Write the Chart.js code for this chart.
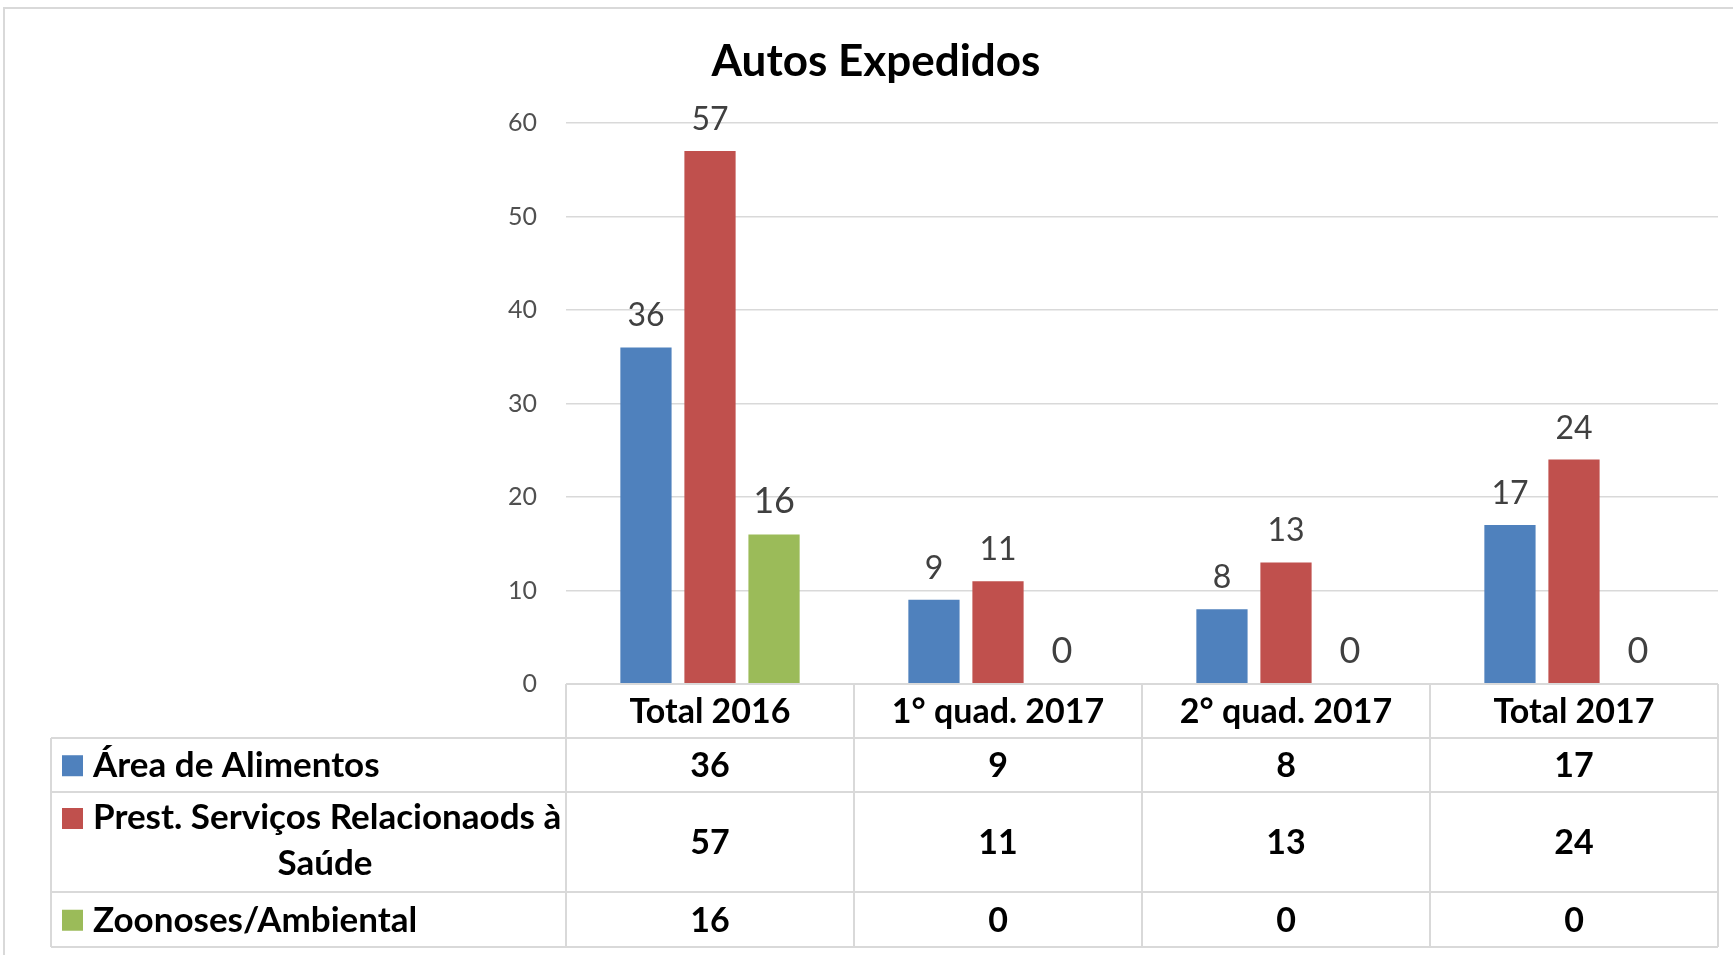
<!DOCTYPE html>
<html>
<head>
<meta charset="utf-8">
<script src="https://cdn.jsdelivr.net/npm/chart.js@4/dist/chart.umd.min.js"></script>
<style>
  html, body { margin: 0; padding: 0; background: #fff; }
  canvas { display: block; }
</style>
</head>
<body>
<canvas id="autosChart" width="1733" height="955"></canvas>
<script>
// dados do gráfico
const categories = ['Total 2016', '1° quad. 2017', '2° quad. 2017', 'Total 2017'];
const seriesNames = ['Área de Alimentos', 'Prest. Serviços Relacionaods à Saúde', 'Zoonoses/Ambiental'];
const alimentos = [36, 9, 8, 17];
const prestServicos = [57, 11, 13, 24];
const zoonoses = [16, 0, 0, 0];
const yTicks = [0, 10, 20, 30, 40, 50, 60];

const colors = ['#4F81BD', '#C0504D', '#9BBB59'];
const gridColor = '#d9d9d9';
const fontFamily = 'Lato, "Open Sans", sans-serif';

Chart.defaults.font.family = fontFamily;

// rótulos acima das barras
const barLabels = {
    id: 'barLabels',
    afterDatasetsDraw(chart) {
        const ctx = chart.ctx;
        ctx.save();
        ctx.fillStyle = '#404040';
        ctx.textAlign = 'center';
        ctx.textBaseline = 'alphabetic';
        chart.data.datasets.forEach((ds, di) => {
            const meta = chart.getDatasetMeta(di);
            ctx.font = (di === 2 ? 36 : 32) + 'px ' + fontFamily;
            meta.data.forEach((bar, i) => {
                ctx.fillText(String(ds.data[i]), bar.x, bar.y - 21);
            });
        });
        ctx.restore();
    }
};

// título e tabela de dados
const dataTable = {
    id: 'dataTable',
    afterDraw(chart) {
        const ctx = chart.ctx;
        const x = chart.scales.x;
        const n = categories.length;
        const colW = x.width / n;
        const left = 51;
        const edges = [];
        for (let i = 0; i <= n; i++) edges.push(x.left + colW * i);
        const rows = [684, 738, 792, 892, 947];

        ctx.save();
        // moldura externa
        ctx.strokeStyle = gridColor;
        ctx.lineWidth = 2;
        ctx.strokeRect(4, 8, 1760, 1000);

        // título
        ctx.fillStyle = '#000';
        ctx.textAlign = 'center';
        ctx.font = 'bold 44px ' + fontFamily;
        ctx.fillText('Autos Expedidos', 876, 76);

        // linhas da tabela
        ctx.strokeStyle = gridColor;
        ctx.lineWidth = 2;
        ctx.beginPath();
        ctx.moveTo(edges[0], rows[0]); ctx.lineTo(edges[n], rows[0]);
        for (let r = 1; r < rows.length; r++) {
            ctx.moveTo(left, rows[r]); ctx.lineTo(edges[n], rows[r]);
        }
        edges.forEach(ex => { ctx.moveTo(ex, rows[0]); ctx.lineTo(ex, rows[4]); });
        ctx.moveTo(left, rows[1]); ctx.lineTo(left, rows[4]);
        ctx.stroke();

        const fs = 34;
        ctx.font = 'bold ' + fs + 'px ' + fontFamily;
        ctx.fillStyle = '#000';
        const mid = (a, b) => (a + b) / 2 + fs * 0.36;

        // cabeçalho
        categories.forEach((c, i) => {
            ctx.fillText(c, x.getPixelForValue(i), mid(rows[0], rows[1]));
        });

        // valores
        const series = [alimentos, prestServicos, zoonoses];
        series.forEach((vals, s) => {
            const y = mid(rows[s + 1], rows[s + 2]);
            vals.forEach((v, i) => ctx.fillText(String(v), x.getPixelForValue(i), y));
        });

        // legenda
        ctx.font = 'bold 35px ' + fontFamily;
        ctx.textAlign = 'left';
        const base1 = mid(rows[1], rows[2]);
        ctx.fillStyle = colors[0];
        ctx.fillRect(62, base1 - 22, 21, 21);
        ctx.fillStyle = '#000';
        ctx.fillText(seriesNames[0], 93, base1);

        const base2 = 829;
        ctx.fillStyle = colors[1];
        ctx.fillRect(62, base2 - 21, 21, 21);
        ctx.fillStyle = '#000';
        ctx.fillText('Prest. Serviços Relacionaods à', 93, base2);
        ctx.textAlign = 'center';
        ctx.fillText('Saúde', 325, base2 + 46);

        ctx.textAlign = 'left';
        const base3 = mid(rows[3], rows[4]);
        ctx.fillStyle = colors[2];
        ctx.fillRect(62, base3 - 22, 21, 21);
        ctx.fillStyle = '#000';
        ctx.fillText(seriesNames[2], 93, base3);
        ctx.restore();
    }
};

const ctx = document.getElementById('autosChart').getContext('2d');
const chart = new Chart(ctx, {
    type: 'bar',
    data: {
        labels: categories,
        datasets: [alimentos, prestServicos, zoonoses].map((d, i) => ({
            label: seriesNames[i],
            data: d,
            backgroundColor: colors[i],
            categoryPercentage: 0.667,
            barPercentage: 0.8
        }))
    },
    options: {
        responsive: false,
        animation: false,
        layout: { padding: { top: 123, right: 15, left: 0, bottom: 0 } },
        plugins: {
            legend: { display: false },
            title: { display: false },
            tooltip: { enabled: false }
        },
        scales: {
            x: {
                ticks: { display: false },
                grid: { display: false },
                border: { display: false },
                afterFit: function(scale) { scale.height = 955 - 684; }
            },
            y: {
                min: 0,
                max: 60,
                afterBuildTicks: function(scale) {
                    scale.ticks = yTicks.map(v => ({ value: v }));
                },
                ticks: {
                    color: '#505050',
                    font: { size: 25 },
                    padding: 29
                },
                grid: { color: gridColor, lineWidth: 1.5, drawTicks: false },
                border: { display: false },
                afterFit: function(scale) { scale.width = 566; }
            }
        }
    },
    plugins: [barLabels, dataTable]
});
</script>
</body>
</html>
